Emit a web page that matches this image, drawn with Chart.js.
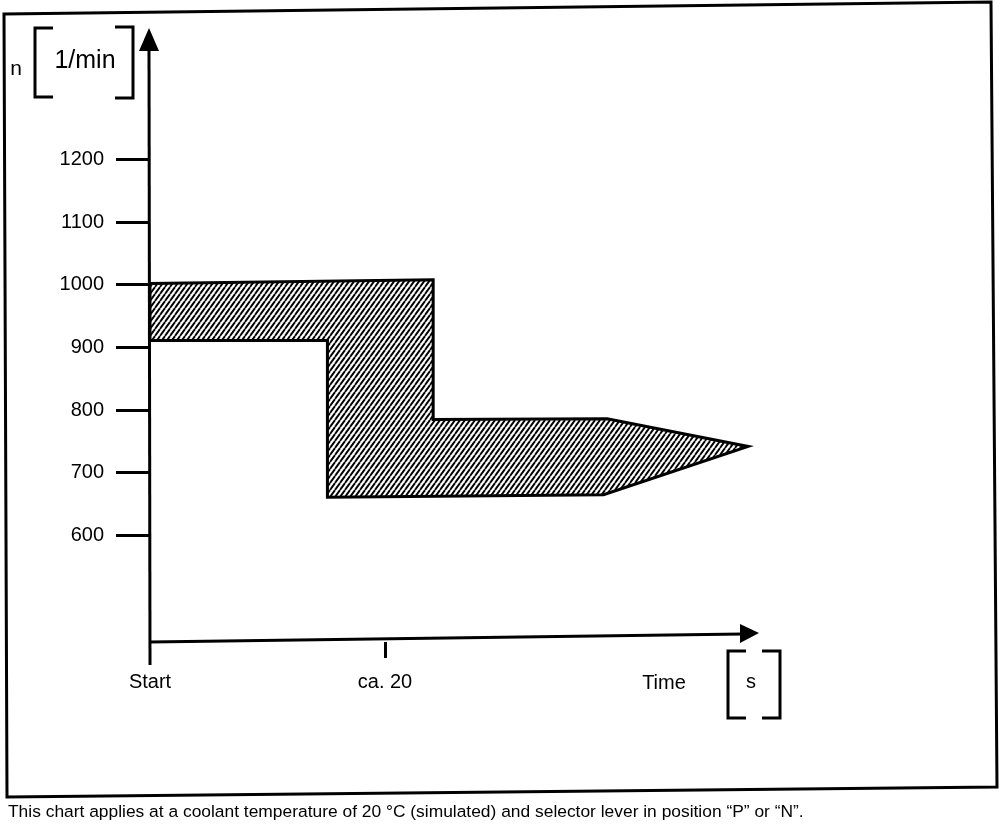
<!DOCTYPE html>
<html>
<head>
<meta charset="utf-8">
<script src="https://cdn.jsdelivr.net/npm/chart.js@4"></script>
<style>
  body { margin: 0; background: #fff; }
  #wrap { width: 1008px; height: 824px; position: relative; }
</style>
</head>
<body>
<div id="wrap"><canvas id="speedChart"></canvas></div>
<script>
// DATA
const yTicks = [600, 700, 800, 900, 1000, 1100, 1200];
const xTicks = [0, 20];
const xTickLabels = ['Start', 'ca. 20'];
// outline of the hatched band (time in s, speed in 1/min), closed
const bandTime = [0, 24.1, 24.1, 38.9, 50.9, 38.6, 15.1, 15.1, 0, 0];
const bandSpeed = [1002, 1008, 785, 786, 742, 665, 661, 911, 911, 1002];

const FONT = '"Liberation Sans", Arial, sans-serif';

// HATCH PATTERN
function makeHatch() {
  const w = 5, h = 7;
  const c = document.createElement('canvas');
  c.width = w; c.height = h;
  const g = c.getContext('2d');
  g.fillStyle = '#fff';
  g.fillRect(0, 0, w, h);
  g.strokeStyle = '#000';
  g.lineWidth = 1.9;
  [-w, 0, w].forEach(ox => {
    g.beginPath();
    g.moveTo(ox, h);
    g.lineTo(ox + w, 0);
    g.stroke();
  });
  return g.createPattern(c, 'repeat');
}

const canvas = document.getElementById('speedChart');
const ctx = canvas.getContext('2d');

// AXES, ARROWS, BRACKETS, FRAME
const decor = {
  id: 'decor',
  afterDraw(chart) {
    const c = chart.ctx;
    const xs = chart.scales.x, ys = chart.scales.y;
    const x0 = xs.getPixelForValue(0);
    const yb = ys.getPixelForValue(ys.min);
    const yt = ys.getPixelForValue(ys.max);
    const xr = xs.getPixelForValue(xs.max);
    c.save();
    c.strokeStyle = '#000';
    c.fillStyle = '#000';
    c.lineWidth = 3;

    // frame
    c.beginPath();
    c.moveTo(4, 14); c.lineTo(991, 2); c.lineTo(997, 787); c.lineTo(7, 797);
    c.closePath();
    c.stroke();

    // y axis + arrow
    c.beginPath();
    c.moveTo(x0, yb + 23);
    c.lineTo(x0 - 1, yt + 16);
    c.stroke();
    c.beginPath();
    c.moveTo(x0 - 1, yt - 6);
    c.lineTo(x0 - 11, yt + 17);
    c.lineTo(x0 + 9, yt + 17);
    c.closePath();
    c.fill();

    // x axis + arrow (scan is slightly tilted)
    c.beginPath();
    c.moveTo(x0, yb);
    c.lineTo(xr - 18, yb - 8);
    c.stroke();
    c.beginPath();
    c.moveTo(xr - 2, yb - 9);
    c.lineTo(xr - 21, yb - 18);
    c.lineTo(xr - 21, yb + 1);
    c.closePath();
    c.fill();

    // unit brackets
    function bracket(x, y1, y2, dir) {
      c.beginPath();
      c.moveTo(x + dir * 18, y1);
      c.lineTo(x, y1);
      c.lineTo(x, y2);
      c.lineTo(x + dir * 18, y2);
      c.stroke();
    }
    bracket(35, 28, 97, 1);
    bracket(133, 27, 98, -1);
    bracket(728, 651, 718, 1);
    bracket(780, 651, 718, -1);

    // texts
    c.textBaseline = 'middle';
    c.textAlign = 'center';
    c.font = '21px ' + FONT;
    c.fillText('n', 16, 69);
    c.font = '25px ' + FONT;
    c.fillText('1/min', 85, 61);
    c.font = '20px ' + FONT;
    c.fillText('Time', 664, 683);
    c.fillText('s', 751, 682);
    c.textAlign = 'left';
    c.font = '17.4px ' + FONT;
    c.fillText('This chart applies at a coolant temperature of 20 °C (simulated) and selector lever in position \u201cP\u201d or \u201cN\u201d.', 8, 812);
    c.restore();
  }
};

const speedChart = new Chart(ctx, {
  type: 'scatter',
  data: {
    datasets: [{
      data: bandTime.map((t, i) => ({ x: t, y: bandSpeed[i] })),
      showLine: true,
      tension: 0,
      fill: 'shape',
      backgroundColor: makeHatch(),
      borderColor: '#000',
      borderWidth: 3,
      pointRadius: 0,
      clip: false
    }]
  },
  options: {
    responsive: true,
    maintainAspectRatio: false,
    animation: false,
    layout: { padding: { left: 0, top: 34, right: 247, bottom: 0 } },
    plugins: { legend: { display: false }, tooltip: { enabled: false } },
    scales: {
      x: {
        type: 'linear',
        min: 0,
        max: 52,
        afterFit: s => { s.height = 182; },
        afterBuildTicks: s => { s.ticks = xTicks.map(v => ({ value: v })); },
        border: { display: false },
        grid: {
          drawOnChartArea: false,
          tickLength: 16,
          lineWidth: 3,
          color: c => (c.tick && c.tick.value === 0) ? 'rgba(0,0,0,0)' : '#000'
        },
        ticks: {
          color: '#000',
          font: { family: FONT, size: 20 },
          padding: 12,
          maxRotation: 0,
          callback: v => xTickLabels[xTicks.indexOf(v)]
        }
      },
      y: {
        type: 'linear',
        min: 430,
        max: 1400,
        afterFit: s => { s.width = 150; },
        afterBuildTicks: s => { s.ticks = yTicks.map(v => ({ value: v })); },
        border: { display: false },
        grid: {
          drawOnChartArea: false,
          tickLength: 34,
          lineWidth: 3,
          color: '#000'
        },
        ticks: {
          color: '#000',
          font: { family: FONT, size: 20 },
          padding: 12,
          callback: v => String(v)
        }
      }
    }
  },
  plugins: [decor]
});
</script>
</body>
</html>
